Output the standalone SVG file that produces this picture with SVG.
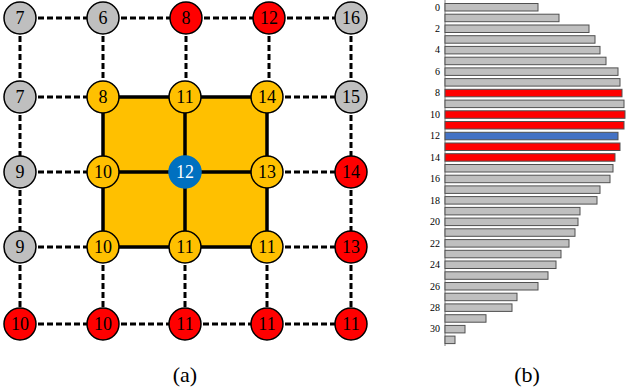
<svg xmlns="http://www.w3.org/2000/svg" width="628" height="388" viewBox="0 0 628 388" font-family="'Liberation Serif','Times New Roman','DejaVu Serif',serif">
<style>
.dash{stroke:#000;stroke-width:3;stroke-dasharray:6,3;fill:none}
.solid{stroke:#000;stroke-width:3.5;fill:none}
.n circle{stroke:#000;stroke-width:1.5}
.g{fill:#BFBFBF}.r{fill:#FF0000}.y{fill:#FFC000}.b{fill:#0070C0}
text{font-family:'Liberation Serif','Times New Roman','DejaVu Serif',serif}
.n text{font-size:18px;text-anchor:middle;fill:#000}
.n text.wt{fill:#fff}
.bar{stroke:#505050;stroke-width:1}
.bg{fill:#BFBFBF}.br{fill:#FF0000}.bb{fill:#4472C4}
.lab{font-size:10px;text-anchor:end;fill:#000}
.cap{font-size:22px;text-anchor:middle;fill:#000}
</style>
<rect x="0" y="0" width="628" height="388" fill="#fff"/>
<rect x="103" y="97" width="164" height="150" fill="#FFC000"/>
<g id="connectors">
<path class="dash" d="M20,18H103M103,18H186M186,18H269M269,18H351"/>
<path class="dash" d="M20,97H103M267,97H351"/>
<path class="dash" d="M20,172H103M267,172H351"/>
<path class="dash" d="M20,247H103M267,247H351"/>
<path class="dash" d="M20,324H103M103,324H185M185,324H267M267,324H351"/>
<path class="dash" d="M20,18V97M20,97V172M20,172V247M20,247V324"/>
<path class="dash" d="M351,18V97M351,97V172M351,172V247M351,247V324"/>
<path class="dash" d="M103,18V97M186,18V97M269,18V97"/>
<path class="dash" d="M103,247V324M185,247V324M267,247V324"/>
<path class="solid" d="M103,97H267M103,172H267M103,247H267M103,97V247M185,97V247M267,97V247"/>
</g>
<g id="n00" class="n"><circle class="g" cx="20" cy="18" r="16"/><text x="20" y="24">7</text></g>
<g id="n01" class="n"><circle class="g" cx="103" cy="18" r="16"/><text x="103" y="24">6</text></g>
<g id="n02" class="n"><circle class="r" cx="186" cy="18" r="16"/><text x="186" y="24">8</text></g>
<g id="n03" class="n"><circle class="r" cx="269" cy="18" r="16"/><text x="269" y="24">12</text></g>
<g id="n04" class="n"><circle class="g" cx="351" cy="18" r="16"/><text x="351" y="24">16</text></g>
<g id="n10" class="n"><circle class="g" cx="20" cy="97" r="16"/><text x="20" y="103">7</text></g>
<g id="n11" class="n"><circle class="y" cx="103" cy="97" r="16"/><text x="103" y="103">8</text></g>
<g id="n12" class="n"><circle class="y" cx="185" cy="97" r="16"/><text x="185" y="103">11</text></g>
<g id="n13" class="n"><circle class="y" cx="267" cy="97" r="16"/><text x="267" y="103">14</text></g>
<g id="n14" class="n"><circle class="g" cx="351" cy="97" r="16"/><text x="351" y="103">15</text></g>
<g id="n20" class="n"><circle class="g" cx="20" cy="172" r="16"/><text x="20" y="178">9</text></g>
<g id="n21" class="n"><circle class="y" cx="103" cy="172" r="16"/><text x="103" y="178">10</text></g>
<g id="n22" class="n"><circle class="b" cx="185" cy="172" r="16" style="stroke:#0070C0"/><text class="wt" x="185" y="178">12</text></g>
<g id="n23" class="n"><circle class="y" cx="267" cy="172" r="16"/><text x="267" y="178">13</text></g>
<g id="n24" class="n"><circle class="r" cx="351" cy="172" r="16"/><text x="351" y="178">14</text></g>
<g id="n30" class="n"><circle class="g" cx="20" cy="247" r="16"/><text x="20" y="253">9</text></g>
<g id="n31" class="n"><circle class="y" cx="103" cy="247" r="16"/><text x="103" y="253">10</text></g>
<g id="n32" class="n"><circle class="y" cx="185" cy="247" r="16"/><text x="185" y="253">11</text></g>
<g id="n33" class="n"><circle class="y" cx="267" cy="247" r="16"/><text x="267" y="253">11</text></g>
<g id="n34" class="n"><circle class="r" cx="351" cy="247" r="16"/><text x="351" y="253">13</text></g>
<g id="n40" class="n"><circle class="r" cx="20" cy="324" r="16"/><text x="20" y="330">10</text></g>
<g id="n41" class="n"><circle class="r" cx="103" cy="324" r="16"/><text x="103" y="330">10</text></g>
<g id="n42" class="n"><circle class="r" cx="185" cy="324" r="16"/><text x="185" y="330">11</text></g>
<g id="n43" class="n"><circle class="r" cx="267" cy="324" r="16"/><text x="267" y="330">11</text></g>
<g id="n44" class="n"><circle class="r" cx="351" cy="324" r="16"/><text x="351" y="330">11</text></g>
<text class="cap" x="185" y="382">(a)</text>
<g id="chart">
<line x1="445" y1="0" x2="445" y2="346" stroke="#808080" stroke-width="1"/>
<rect class="bar bg" x="445" y="3.5" width="93" height="7.5"/>
<rect class="bar bg" x="445" y="14.2" width="114" height="7.5"/>
<rect class="bar bg" x="445" y="25" width="144" height="7.5"/>
<rect class="bar bg" x="445" y="35.7" width="150" height="7.5"/>
<rect class="bar bg" x="445" y="46.4" width="155" height="7.5"/>
<rect class="bar bg" x="445" y="57.2" width="161" height="7.5"/>
<rect class="bar bg" x="445" y="67.9" width="173" height="7.5"/>
<rect class="bar bg" x="445" y="78.6" width="175" height="7.5"/>
<rect class="bar br" x="445" y="89.3" width="177" height="7.5"/>
<rect class="bar bg" x="445" y="100.1" width="179" height="7.5"/>
<rect class="bar br" x="445" y="110.8" width="180" height="7.5"/>
<rect class="bar br" x="445" y="121.5" width="179" height="7.5"/>
<rect class="bar bb" x="445" y="132.3" width="173" height="7.5"/>
<rect class="bar br" x="445" y="143" width="175" height="7.5"/>
<rect class="bar br" x="445" y="153.7" width="170" height="7.5"/>
<rect class="bar bg" x="445" y="164.5" width="168" height="7.5"/>
<rect class="bar bg" x="445" y="175.2" width="165" height="7.5"/>
<rect class="bar bg" x="445" y="185.9" width="155" height="7.5"/>
<rect class="bar bg" x="445" y="196.6" width="152" height="7.5"/>
<rect class="bar bg" x="445" y="207.4" width="135" height="7.5"/>
<rect class="bar bg" x="445" y="218.1" width="133" height="7.5"/>
<rect class="bar bg" x="445" y="228.8" width="130" height="7.5"/>
<rect class="bar bg" x="445" y="239.6" width="124" height="7.5"/>
<rect class="bar bg" x="445" y="250.3" width="116" height="7.5"/>
<rect class="bar bg" x="445" y="261" width="111" height="7.5"/>
<rect class="bar bg" x="445" y="271.8" width="103" height="7.5"/>
<rect class="bar bg" x="445" y="282.5" width="93" height="7.5"/>
<rect class="bar bg" x="445" y="293.2" width="72" height="7.5"/>
<rect class="bar bg" x="445" y="303.9" width="67" height="7.5"/>
<rect class="bar bg" x="445" y="314.7" width="41" height="7.5"/>
<rect class="bar bg" x="445" y="325.4" width="20" height="7.5"/>
<rect class="bar bg" x="445" y="336.1" width="10" height="7.5"/>
<text class="lab" x="440" y="10.5">0</text>
<text class="lab" x="440" y="32">2</text>
<text class="lab" x="440" y="53.4">4</text>
<text class="lab" x="440" y="74.9">6</text>
<text class="lab" x="440" y="96.3">8</text>
<text class="lab" x="440" y="117.8">10</text>
<text class="lab" x="440" y="139.3">12</text>
<text class="lab" x="440" y="160.7">14</text>
<text class="lab" x="440" y="182.2">16</text>
<text class="lab" x="440" y="203.6">18</text>
<text class="lab" x="440" y="225.1">20</text>
<text class="lab" x="440" y="246.6">22</text>
<text class="lab" x="440" y="268">24</text>
<text class="lab" x="440" y="289.5">26</text>
<text class="lab" x="440" y="310.9">28</text>
<text class="lab" x="440" y="332.4">30</text>
</g>
<text class="cap" x="527" y="382">(b)</text>
</svg>
